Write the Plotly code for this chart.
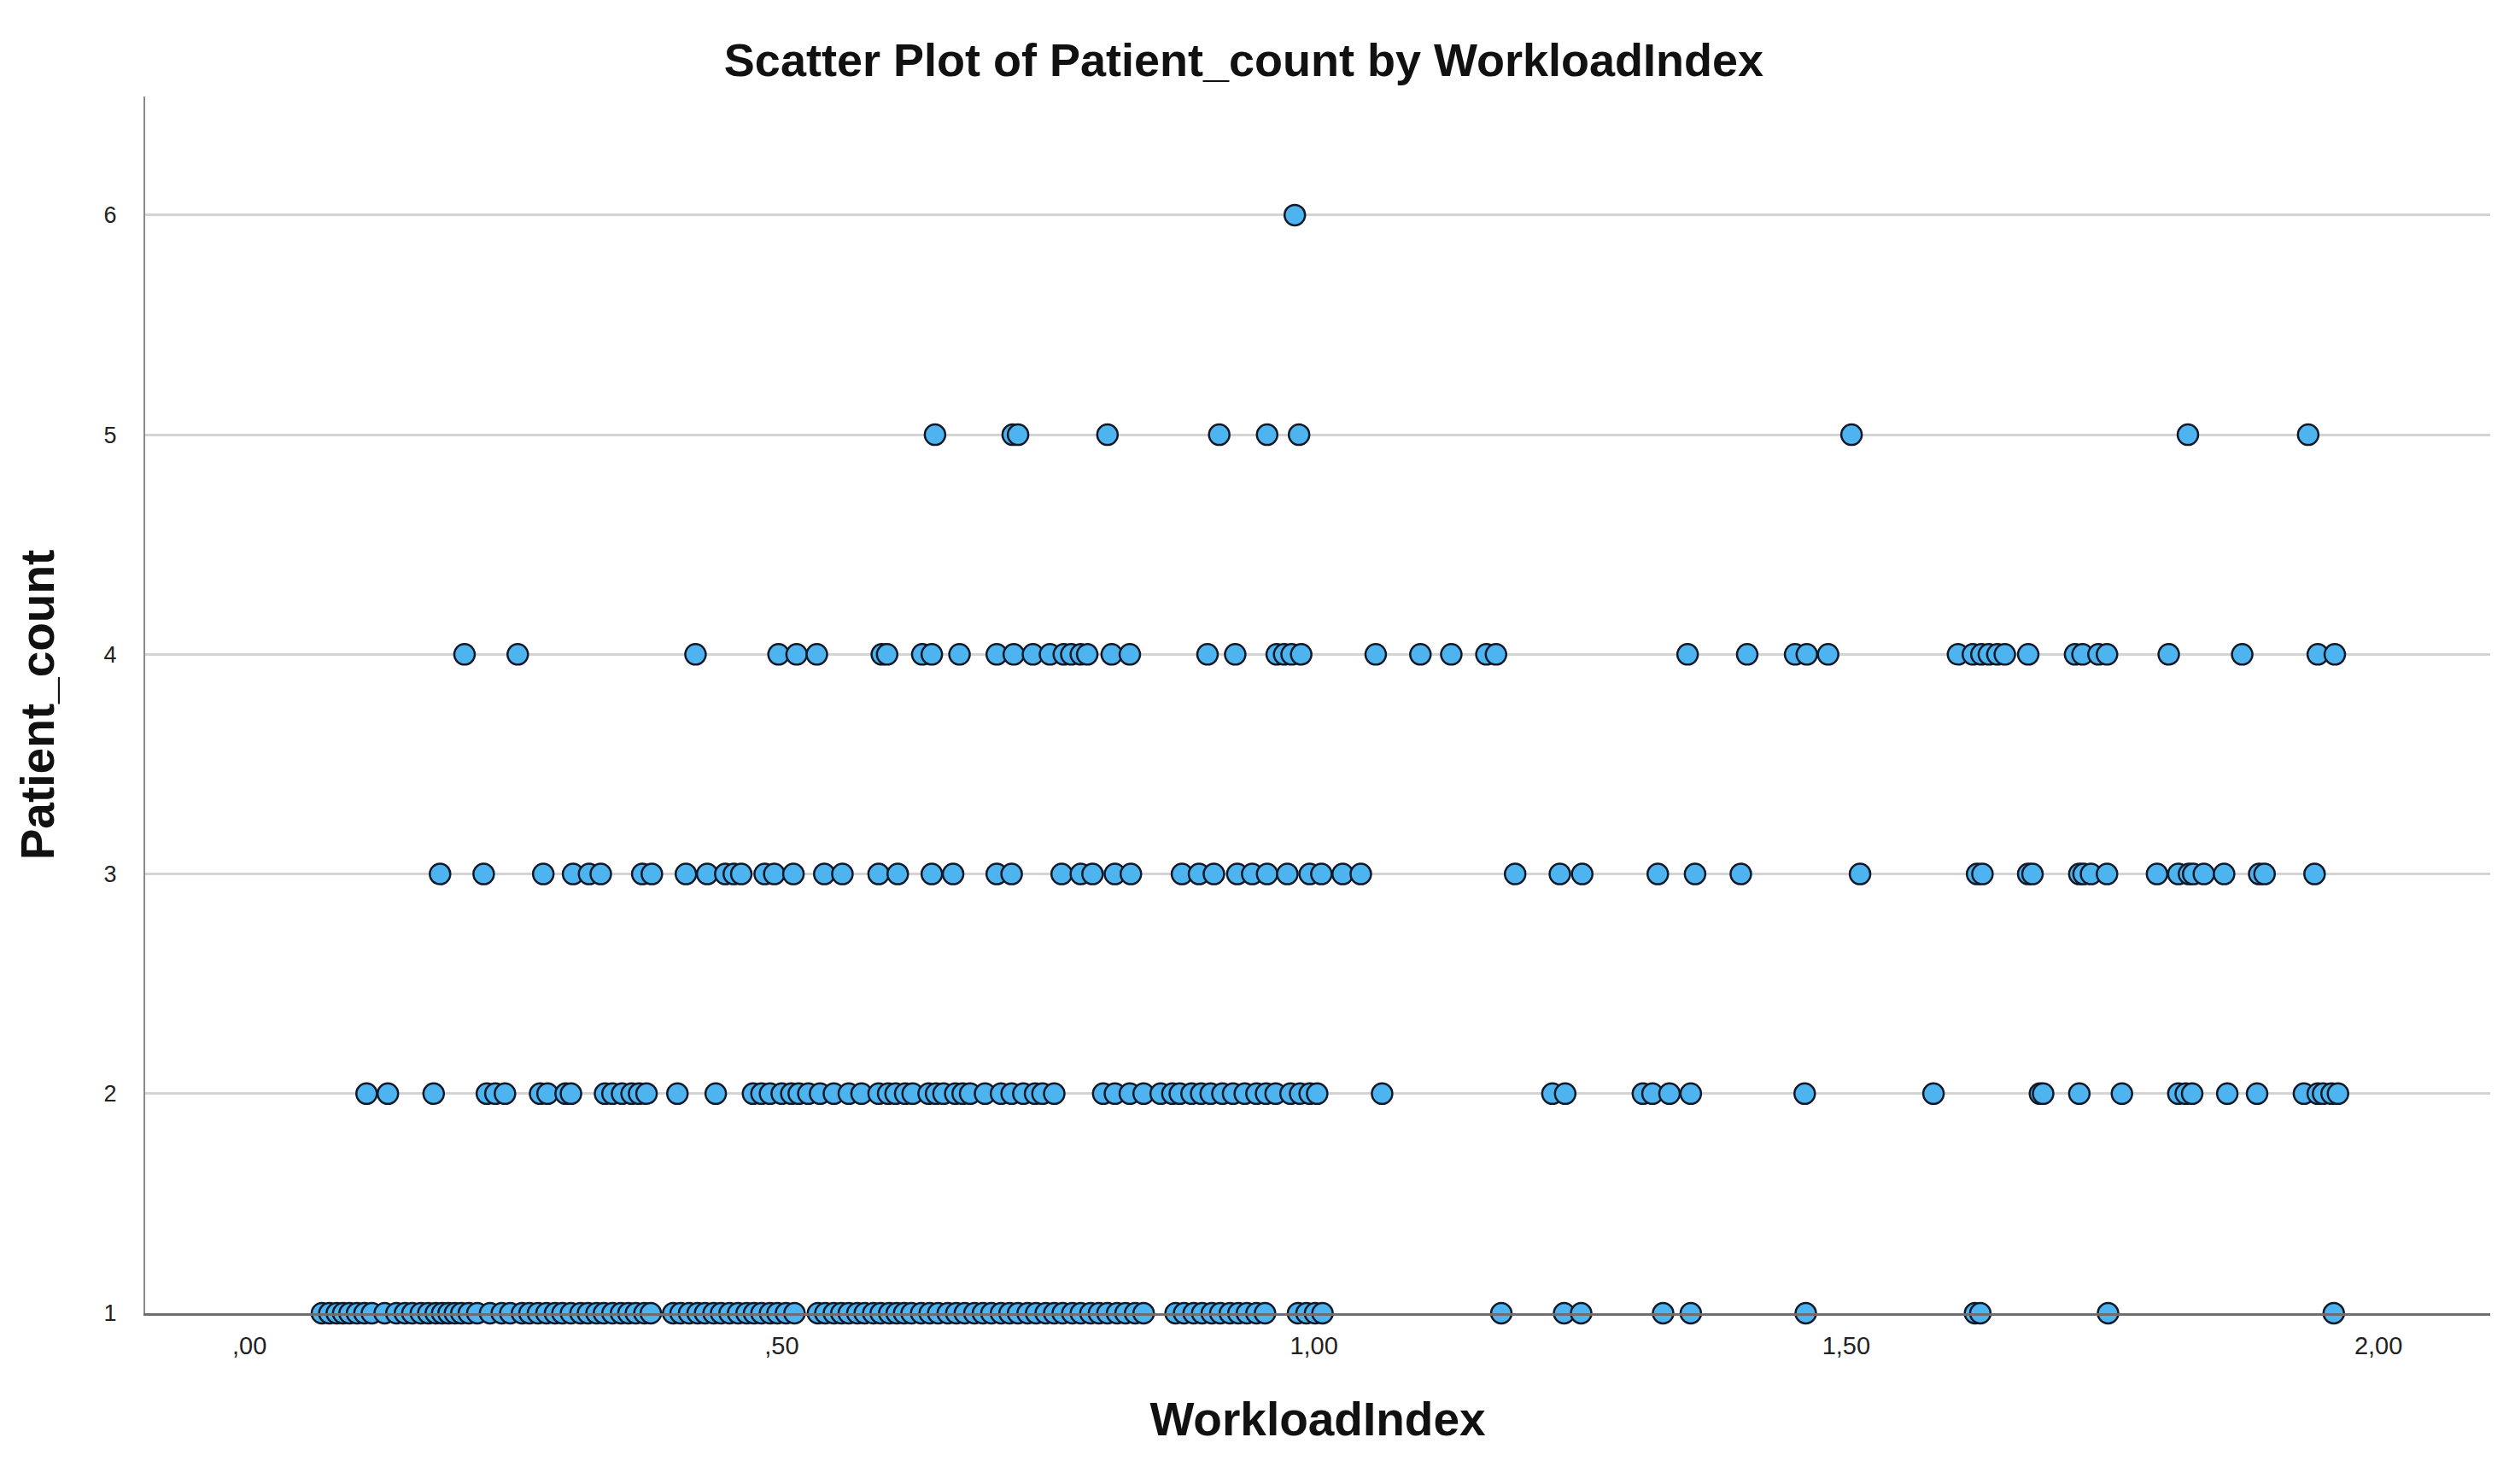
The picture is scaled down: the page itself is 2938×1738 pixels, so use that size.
import plotly.graph_objects as go

# ---- data ----
workload_pc1 = [0.068, 0.075, 0.082, 0.088, 0.094, 0.101, 0.108, 0.115, 0.127, 0.138, 0.146, 0.153,
                0.161, 0.168, 0.175, 0.181, 0.187, 0.193, 0.199, 0.206, 0.214, 0.226, 0.237, 0.245,
                0.256, 0.263, 0.271, 0.279, 0.287, 0.294, 0.302, 0.311, 0.318, 0.326, 0.333, 0.341,
                0.349, 0.356, 0.363, 0.371, 0.377, 0.398, 0.405, 0.413, 0.421, 0.428, 0.436, 0.443,
                0.451, 0.459, 0.467, 0.474, 0.481, 0.489, 0.496, 0.504, 0.512, 0.534, 0.541, 0.549,
                0.556, 0.563, 0.571, 0.578, 0.586, 0.593, 0.601, 0.608, 0.615, 0.622, 0.631, 0.639,
                0.647, 0.656, 0.664, 0.672, 0.681, 0.689, 0.697, 0.706, 0.714, 0.722, 0.731, 0.739,
                0.748, 0.756, 0.764, 0.773, 0.781, 0.790, 0.798, 0.806, 0.815, 0.823, 0.832, 0.840,
                0.870, 0.878, 0.887, 0.895, 0.904, 0.912, 0.921, 0.929, 0.937, 0.946, 0.954, 0.985,
                0.993, 1.001, 1.008,
                1.176, 1.235, 1.251, 1.328, 1.354, 1.462, 1.621, 1.626, 1.746, 1.958]

workload_pc2 = [0.110, 0.130, 0.173, 0.223, 0.231, 0.240, 0.273, 0.280, 0.297, 0.302, 0.334, 0.341,
                0.350, 0.359, 0.366, 0.373, 0.402, 0.438, 0.473, 0.481, 0.489, 0.500, 0.509, 0.516,
                0.525, 0.536, 0.549, 0.563, 0.575, 0.591, 0.600, 0.607, 0.616, 0.623, 0.638, 0.645,
                0.652, 0.663, 0.670, 0.677, 0.691, 0.706, 0.716, 0.727, 0.738, 0.745, 0.756, 0.802,
                0.813, 0.827, 0.840, 0.856, 0.867, 0.874, 0.885, 0.894, 0.903, 0.914, 0.924, 0.935,
                0.946, 0.955, 0.964, 0.978, 0.987, 0.996, 1.003, 1.064,
                1.224, 1.236, 1.309, 1.318, 1.334, 1.354, 1.461, 1.582, 1.682, 1.685, 1.719, 1.759,
                1.812, 1.819, 1.825, 1.858, 1.886, 1.930, 1.943, 1.948, 1.956, 1.962]

workload_pc3 = [0.179, 0.220, 0.276, 0.304, 0.319, 0.330, 0.369, 0.378, 0.410, 0.430, 0.447, 0.455,
                0.462, 0.484, 0.493, 0.511, 0.540, 0.557, 0.591, 0.609, 0.641, 0.661, 0.702, 0.716,
                0.763, 0.781, 0.792, 0.813, 0.828, 0.876, 0.892, 0.906, 0.928, 0.942, 0.956, 0.975,
                0.996, 1.007, 1.027, 1.044,
                1.189, 1.231, 1.252, 1.323, 1.358, 1.401, 1.513, 1.623, 1.628, 1.671, 1.675, 1.719,
                1.723, 1.730, 1.745, 1.792, 1.812, 1.822, 1.826, 1.836, 1.855, 1.888, 1.893, 1.940]

workload_pc4 = [0.202, 0.252, 0.419, 0.497, 0.514, 0.533, 0.594, 0.599, 0.632, 0.641, 0.667, 0.702,
                0.718, 0.736, 0.752, 0.765, 0.772, 0.781, 0.787, 0.810, 0.827, 0.900, 0.926, 0.965,
                0.972, 0.979, 0.988, 1.058, 1.100, 1.129, 1.162, 1.171, 1.351, 1.407, 1.452, 1.463,
                1.483, 1.605, 1.619, 1.627, 1.634, 1.642, 1.649, 1.671, 1.715, 1.722, 1.737, 1.745,
                1.803, 1.872, 1.943, 1.959]

workload_pc5 = [0.644, 0.717, 0.722, 0.806, 0.911, 0.956, 0.986, 1.505, 1.821, 1.934]

workload_pc6 = [0.982]

patient_levels = [1, 2, 3, 4, 5, 6]
x_tick_vals = [0.0, 0.5, 1.0, 1.5, 2.0]
x_tick_text = [",00", ",50", "1,00", "1,50", "2,00"]
y_tick_vals = [1, 2, 3, 4, 5, 6]
y_tick_text = ["1", "2", "3", "4", "5", "6"]

groups = [workload_pc1, workload_pc2, workload_pc3, workload_pc4, workload_pc5, workload_pc6]
xs, ys = [], []
for lvl, vals in zip(patient_levels, groups):
    xs.extend(vals)
    ys.extend([lvl] * len(vals))

FONT = "Liberation Sans, Arial, sans-serif"

fig = go.Figure()
fig.add_trace(go.Scatter(
    x=xs, y=ys, mode="markers",
    marker=dict(size=24, color="#4DB4F0", line=dict(color="#111827", width=2.5)),
    cliponaxis=False, showlegend=False,
))

fig.update_layout(
    width=2938, height=1738,
    paper_bgcolor="white", plot_bgcolor="white",
    margin=dict(l=162, r=30, t=105, b=208),
    title=dict(text="<b>Scatter Plot of Patient_count by WorkloadIndex</b>",
               x=0.493, xanchor="center", y=1 - 62 / 1738, yanchor="middle",
               font=dict(family=FONT, size=54, color="#111111")),
    xaxis=dict(range=[-0.098, 2.105], tickvals=x_tick_vals, ticktext=x_tick_text,
               showgrid=False, zeroline=False,
               showline=True, linecolor="#6e6e6e", linewidth=3,
               ticks="outside", ticklen=10, tickcolor="rgba(0,0,0,0)",
               tickfont=dict(family=FONT, size=29, color="#222222"),
               title=dict(text="<b>WorkloadIndex</b>", standoff=52,
                          font=dict(family=FONT, size=55, color="#111111"))),
    yaxis=dict(range=[1, 6.54], tickvals=y_tick_vals, ticktext=y_tick_text,
               showgrid=True, gridcolor="#d4d4d4", gridwidth=3, zeroline=False,
               showline=True, linecolor="#8a8a8a", linewidth=2,
               ticks="outside", ticklen=26, tickcolor="rgba(0,0,0,0)",
               tickfont=dict(family=FONT, size=27, color="#222222"),
               title=dict(text="<b>Patient_count</b>", standoff=40,
                          font=dict(family=FONT, size=55, color="#111111"))),
)

fig.write_html("out.html")
